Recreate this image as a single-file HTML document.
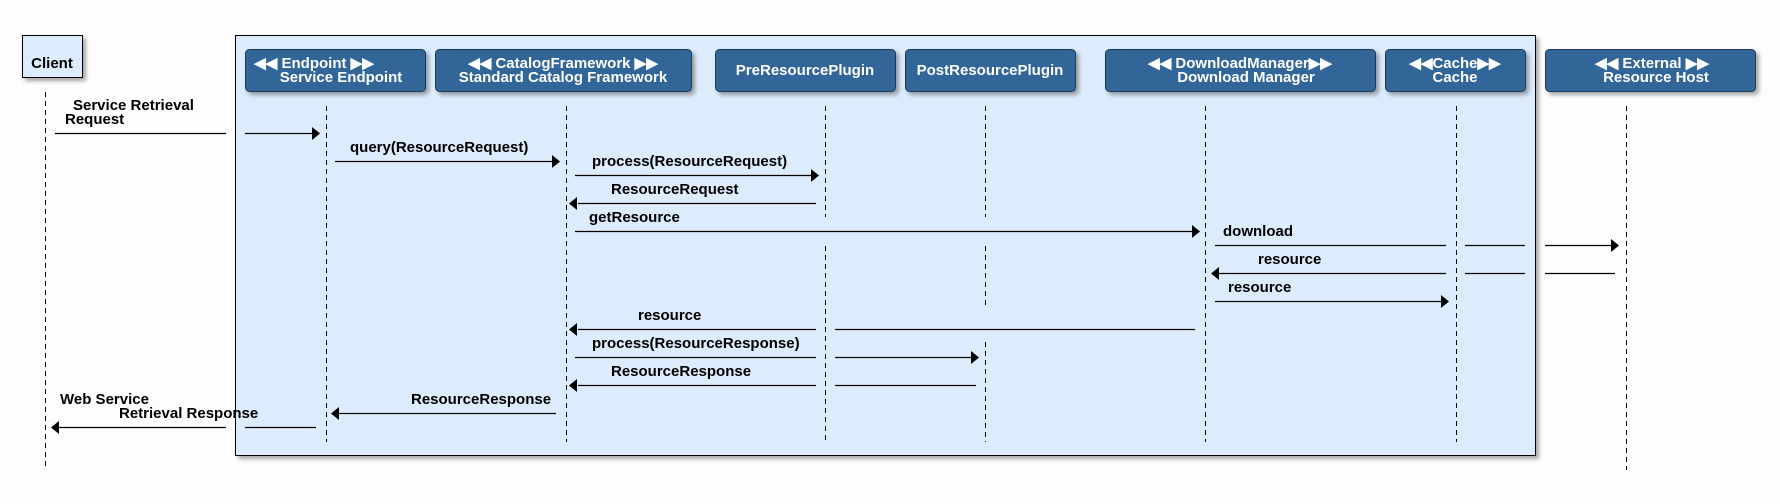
<!DOCTYPE html>
<html><head><meta charset="utf-8"><style>
html,body{margin:0;padding:0;background:#fdfdfd;}
svg{display:block;}
text{font-family:"Liberation Sans",sans-serif;font-weight:bold;font-size:15px;fill:#000;}
.h{fill:#fff;font-size:15px;text-anchor:middle;}
</style></head><body>
<svg width="1780" height="504" viewBox="0 0 1780 504" xmlns="http://www.w3.org/2000/svg">
<defs>
<filter id="sh" x="-5%" y="-5%" width="115%" height="130%"><feDropShadow dx="3" dy="3" stdDeviation="2" flood-color="#000" flood-opacity="0.35"/></filter>
</defs>
<rect x="0" y="0" width="1780" height="504" fill="#fdfdfd"/>
<rect x="235.5" y="35.5" width="1300" height="420" fill="#ddecfc" stroke="#000" stroke-width="1" filter="url(#sh)"/>
<rect x="22.5" y="35.5" width="60" height="42" fill="#ddecfc" stroke="#000" filter="url(#sh)"/>
<text x="52" y="68" text-anchor="middle" font-size="15">Client</text>
<g fill="#336699" stroke="#1d3b5c" stroke-width="1" filter="url(#sh)">
<rect x="245.5" y="49.5" width="180" height="42" rx="4"/>
<rect x="435.5" y="49.5" width="256" height="42" rx="4"/>
<rect x="715.5" y="49.5" width="180" height="42" rx="4"/>
<rect x="905.5" y="49.5" width="170" height="42" rx="4"/>
<rect x="1105.5" y="49.5" width="270" height="42" rx="4"/>
<rect x="1385.5" y="49.5" width="140" height="42" rx="4"/>
<rect x="1545.5" y="49.5" width="210" height="42" rx="4"/>
</g>
<text class="h" x="314" y="68">◀◀ Endpoint ▶▶</text><text class="h" x="341" y="82">Service Endpoint</text>
<text class="h" x="563" y="68">◀◀ CatalogFramework ▶▶</text><text class="h" x="563" y="82">Standard Catalog Framework</text>
<text class="h" x="805" y="75">PreResourcePlugin</text>
<text class="h" x="990" y="75">PostResourcePlugin</text>
<text class="h" x="1240" y="68">◀◀ DownloadManager▶▶</text><text class="h" x="1246" y="82">Download Manager</text>
<text class="h" x="1455" y="68">◀◀Cache▶▶</text><text class="h" x="1455" y="82">Cache</text>
<text class="h" x="1652" y="68">◀◀ External ▶▶</text><text class="h" x="1656" y="82">Resource Host</text>
<g stroke="#000" stroke-width="1" stroke-dasharray="5,4" fill="none">
<line x1="45.5" y1="92" x2="45.5" y2="467"/>
<line x1="326.5" y1="106" x2="326.5" y2="442"/>
<line x1="566.5" y1="106" x2="566.5" y2="442"/>
<line x1="825.5" y1="106" x2="825.5" y2="217"/>
<line x1="825.5" y1="246" x2="825.5" y2="442"/>
<line x1="985.5" y1="106" x2="985.5" y2="217"/>
<line x1="985.5" y1="246" x2="985.5" y2="309"/>
<line x1="985.5" y1="342" x2="985.5" y2="442"/>
<line x1="1205.5" y1="106" x2="1205.5" y2="442"/>
<line x1="1456.5" y1="106" x2="1456.5" y2="442"/>
<line x1="1626.5" y1="106" x2="1626.5" y2="470"/>
</g>
<g stroke="#000" stroke-width="1.3" fill="none">
<line x1="55" y1="133.5" x2="226" y2="133.5"/><line x1="245" y1="133.5" x2="315" y2="133.5"/>
<line x1="335" y1="161.5" x2="555" y2="161.5"/>
<line x1="575" y1="175.5" x2="815" y2="175.5"/>
<line x1="578" y1="203.5" x2="816" y2="203.5"/>
<line x1="575" y1="231.5" x2="1192" y2="231.5"/>
<line x1="1215" y1="245.5" x2="1446" y2="245.5"/><line x1="1465" y1="245.5" x2="1525" y2="245.5"/><line x1="1545" y1="245.5" x2="1612" y2="245.5"/>
<line x1="1219" y1="273.5" x2="1446" y2="273.5"/><line x1="1465" y1="273.5" x2="1525" y2="273.5"/><line x1="1545" y1="273.5" x2="1615" y2="273.5"/>
<line x1="1215" y1="301.5" x2="1442" y2="301.5"/>
<line x1="578" y1="329.5" x2="816" y2="329.5"/><line x1="835" y1="329.5" x2="1195" y2="329.5"/>
<line x1="575" y1="357.5" x2="816" y2="357.5"/><line x1="835" y1="357.5" x2="972" y2="357.5"/>
<line x1="578" y1="385.5" x2="816" y2="385.5"/><line x1="835" y1="385.5" x2="976" y2="385.5"/>
<line x1="339" y1="413.5" x2="556" y2="413.5"/>
<line x1="59" y1="427.5" x2="226" y2="427.5"/><line x1="245" y1="427.5" x2="316" y2="427.5"/>
</g>
<g fill="#000">
<polygon points="320,133.5 312,127 312,140"/>
<polygon points="560,161.5 552,155 552,168"/>
<polygon points="819,175.5 811,169 811,182"/>
<polygon points="569,203.5 577,197 577,210"/>
<polygon points="1200,231.5 1192,225 1192,238"/>
<polygon points="1619,245.5 1611,239 1611,252"/>
<polygon points="1211,273.5 1219,267 1219,280"/>
<polygon points="1449,301.5 1441,295 1441,308"/>
<polygon points="569,329.5 577,323 577,336"/>
<polygon points="979,357.5 971,351 971,364"/>
<polygon points="569,385.5 577,379 577,392"/>
<polygon points="331,413.5 339,407 339,420"/>
<polygon points="51,427.5 59,421 59,434"/>
</g>
<text x="73" y="110">Service Retrieval</text>
<text x="65" y="124">Request</text>
<text x="350" y="152">query(ResourceRequest)</text>
<text x="592" y="166">process(ResourceRequest)</text>
<text x="611" y="194">ResourceRequest</text>
<text x="589" y="222">getResource</text>
<text x="1223" y="236">download</text>
<text x="1258" y="264">resource</text>
<text x="1228" y="292">resource</text>
<text x="638" y="320">resource</text>
<text x="592" y="348">process(ResourceResponse)</text>
<text x="611" y="376">ResourceResponse</text>
<text x="411" y="404">ResourceResponse</text>
<text x="60" y="404">Web Service</text>
<text x="119" y="418">Retrieval Response</text>
</svg>
</body></html>
